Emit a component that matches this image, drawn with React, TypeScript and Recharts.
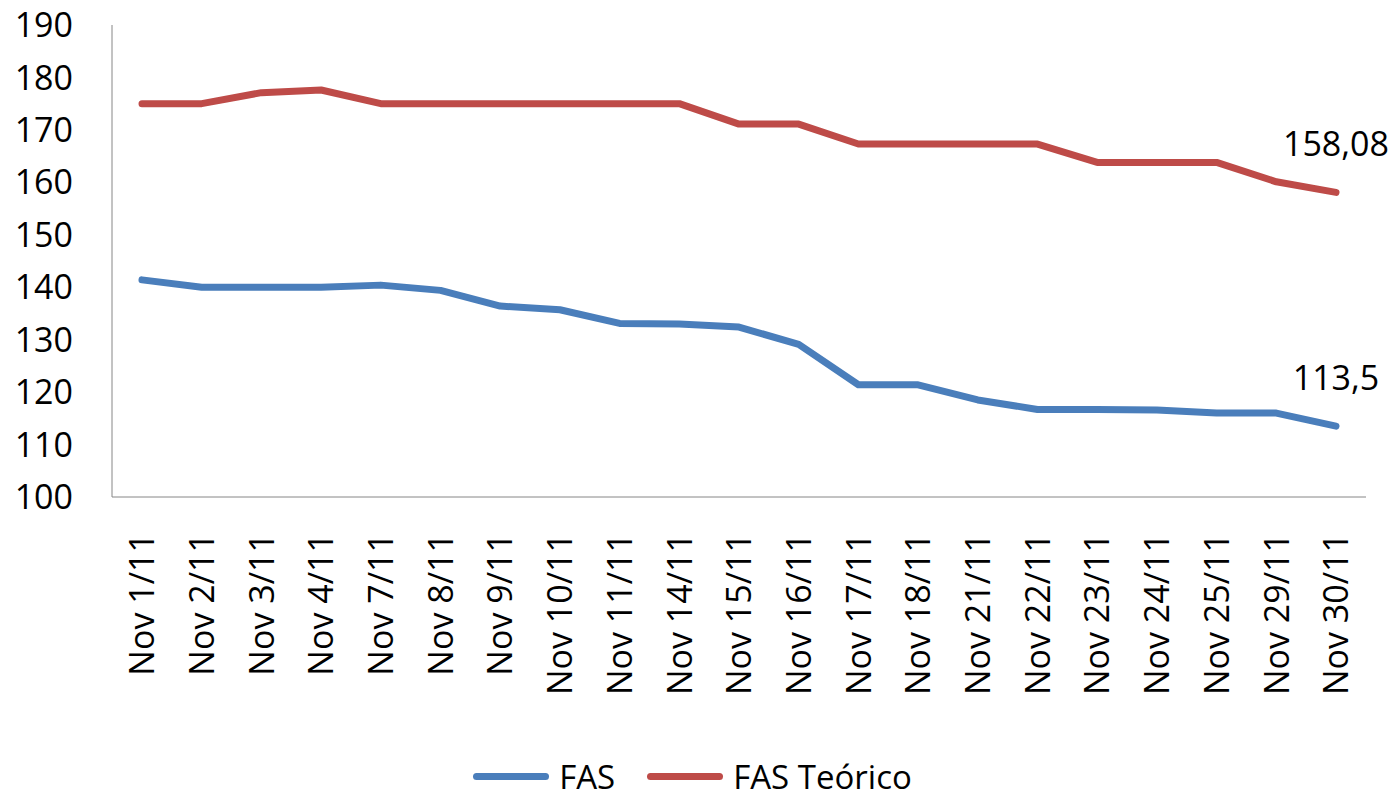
import React from "react";
import { LineChart, Line, XAxis, YAxis, Legend, LabelList } from "recharts";

const dates = [
    "Nov 1/11", "Nov 2/11", "Nov 3/11", "Nov 4/11", "Nov 7/11", "Nov 8/11", "Nov 9/11",
    "Nov 10/11", "Nov 11/11", "Nov 14/11", "Nov 15/11", "Nov 16/11", "Nov 17/11", "Nov 18/11",
    "Nov 21/11", "Nov 22/11", "Nov 23/11", "Nov 24/11", "Nov 25/11", "Nov 29/11", "Nov 30/11",
];

const fas = [
    141.4, 140.0, 140.0, 140.0, 140.4, 139.4, 136.4, 135.7, 133.1, 133.0, 132.4,
    129.1, 121.4, 121.4, 118.5, 116.7, 116.7, 116.6, 116.0, 116.0, 113.5,
];

const fasTeorico = [
    175.0, 175.0, 177.1, 177.6, 175.0, 175.0, 175.0, 175.0, 175.0, 175.0, 171.1,
    171.1, 167.3, 167.3, 167.3, 167.3, 163.8, 163.8, 163.8, 160.1, 158.08,
];

const yTicks = [100, 110, 120, 130, 140, 150, 160, 170, 180, 190];

const BLUE = "#4A7EBB";
const RED = "#BE4B48";
const FONT = "'Open Sans', sans-serif";

const data = dates.map((d, i) => ({ date: d, fas: fas[i], fasTeorico: fasTeorico[i] }));
const last = dates.length - 1;

const DateTick = ({ x, y, payload }: any) => (
    <g transform={`translate(${x},${y})`}>
        <text x={0} y={0} transform="rotate(-90)" textAnchor="end" dy="0.36em"
            fill="#000" fontSize={34} fontFamily={FONT}>
            {payload.value}
        </text>
    </g>
);

const EndLabel = (props: any) => {
    const { x, y, index, value } = props;
    if (index !== last) return null;
    return (
        <text x={x} y={y - 49} textAnchor="middle" dominantBaseline="central"
            fill="#000" fontSize={34} fontFamily={FONT}>
            {String(value).replace(".", ",")}
        </text>
    );
};

const renderLegend = () => {
    const items = [
        { label: "FAS", color: BLUE },
        { label: "FAS Teórico", color: RED },
    ];
    return (
        <div style={{ display: "flex", justifyContent: "center", alignItems: "center", gap: 32, height: 34, fontFamily: FONT, fontSize: 33, lineHeight: "33px", color: "#000" }}>
            {items.map((it) => (
                <div key={it.label} style={{ display: "flex", alignItems: "center" }}>
                    <div style={{ width: 76, height: 7, borderRadius: 4, background: it.color, marginRight: 10 }} />
                    <span>{it.label}</span>
                </div>
            ))}
        </div>
    );
};

export default function App() {
    return (
        <div style={{ position: "absolute", left: 0, top: 0, background: "#fff" }}>
            <LineChart width={1397} height={799} data={data}
                margin={{ top: 25, right: 31, left: 0, bottom: 52 }}>
                <XAxis
                    dataKey="date"
                    interval={0}
                    padding={{ left: 30, right: 30 }}
                    height={250}
                    tickLine={false}
                    tickSize={0}
                    tickMargin={36}
                    stroke="#868686"
                    tick={<DateTick />}
                />
                <YAxis
                    domain={[100, 190]}
                    ticks={yTicks}
                    width={112}
                    tickLine={false}
                    tickSize={0}
                    tickMargin={39}
                    stroke="#868686"
                    tick={{ fill: "#000", fontSize: 34, fontFamily: FONT }}
                />
                <Legend verticalAlign="middle" content={renderLegend}
                    wrapperStyle={{ top: 759, left: -6, width: 1397, height: 34 }} />
                <Line type="linear" dataKey="fas" name="FAS" stroke={BLUE} strokeWidth={7}
                    dot={false} isAnimationActive={false} strokeLinecap="round" strokeLinejoin="round">
                    <LabelList dataKey="fas" content={<EndLabel />} />
                </Line>
                <Line type="linear" dataKey="fasTeorico" name="FAS Teórico" stroke={RED} strokeWidth={7}
                    dot={false} isAnimationActive={false} strokeLinecap="round" strokeLinejoin="round">
                    <LabelList dataKey="fasTeorico" content={<EndLabel />} />
                </Line>
            </LineChart>
        </div>
    );
}
